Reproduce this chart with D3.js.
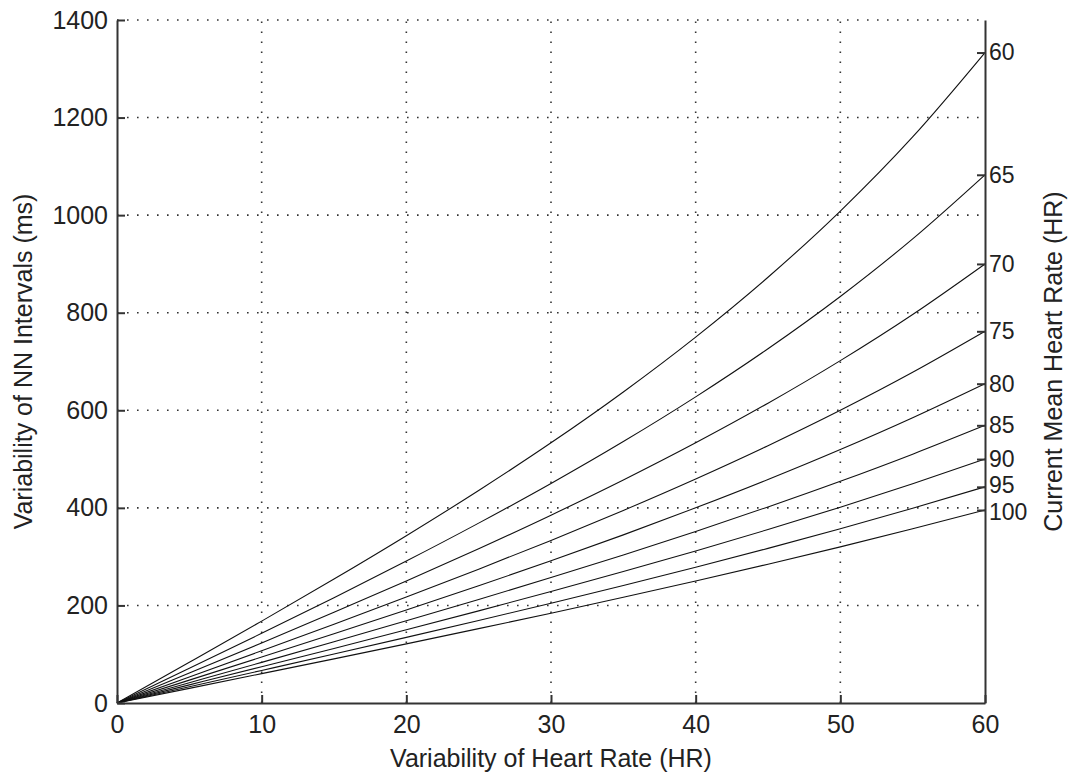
<!DOCTYPE html>
<html>
<head>
<meta charset="utf-8">
<script src="https://cdn.jsdelivr.net/npm/d3@7"></script>
<style>
  body { margin: 0; background: #fff; }
  svg text { font-family: "Liberation Sans", Arial, sans-serif; fill: #222; }
</style>
</head>
<body>
<svg id="chart" width="1072" height="778"></svg>
<script>
// x values (variability of HR) where each curve was read
let hr_var = [0, 5, 10, 15, 20, 25, 30, 35, 40, 45, 50, 55, 60]

// current mean heart rate of each curve
let mean_hr = [60, 65, 70, 75, 80, 85, 90, 95, 100]

// variability of NN intervals (ms), one array per curve
let nn_60  = [0, 83.5, 167.8, 254.0, 342.9, 435.6, 533.3, 637.6, 750.0, 872.7, 1008.4, 1160.4, 1333.3]
let nn_65  = [0, 71.1, 142.9, 215.9, 290.9, 368.7, 450.0, 535.9, 627.5, 726.1, 833.3, 951.4, 1082.7]
let nn_70  = [0, 61.3, 123.1, 185.8, 250.0, 316.2, 385.0, 457.1, 533.3, 614.5, 701.8, 796.4, 900.0]
let nn_75  = [0, 53.4, 107.1, 161.6, 217.2, 274.3, 333.3, 394.8, 459.3, 527.5, 600.0, 677.8, 761.9]
let nn_80  = [0, 46.9, 94.1, 141.9, 190.5, 240.2, 291.5, 344.6, 400.0, 458.1, 519.5, 584.7, 654.5]
let nn_85  = [0, 41.6, 83.3, 125.5, 168.4, 212.2, 257.1, 303.5, 351.6, 401.9, 454.5, 510.1, 569.2]
let nn_90  = [0, 37.1, 74.3, 111.9, 150.0, 188.8, 228.6, 269.4, 311.7, 355.6, 401.3, 449.4, 500.0]
let nn_95  = [0, 33.3, 66.7, 100.3, 134.5, 169.1, 204.5, 240.9, 278.3, 316.9, 357.1, 399.1, 443.1]
let nn_100 = [0, 30.0, 60.2, 90.5, 121.2, 152.4, 184.1, 216.6, 250.0, 284.4, 320.0, 357.0, 395.6]

let x_ticks = [0, 10, 20, 30, 40, 50, 60]
let y_ticks = [0, 200, 400, 600, 800, 1000, 1200, 1400]

let x_title = "Variability of Heart Rate (HR)"
let y_title = "Variability of NN Intervals (ms)"
let y2_title = "Current Mean Heart Rate (HR)"

let width = 1072,
    height = 778,
    margins = {top: 20, bottom: 75, left: 117, right: 87}

let font_size = 25,
    right_font = 23,
    tick_len = 8

function build_series() {
  let all = [nn_60, nn_65, nn_70, nn_75, nn_80, nn_85, nn_90, nn_95, nn_100]
  return all.map((vals, i) => ({
    hr: mean_hr[i],
    points: vals.map((v, j) => ({x: hr_var[j], y: v}))
  }))
}

function make_scales() {
  return {
    x: d3.scaleLinear()
         .domain([0, 60])
         .range([margins.left, width - margins.right]),
    y: d3.scaleLinear()
         .domain([0, 1400])
         .range([height - margins.bottom, margins.top])
  }
}

function draw_grid(svg, scales) {
  let g = svg.append("g").attr("id", "grid")
  g.selectAll("line.gx")
    .data(x_ticks.filter(d => d > 0 && d < 60)).enter()
    .append("line")
    .attr("x1", d => scales.x(d)).attr("x2", d => scales.x(d))
    .attr("y1", scales.y(0)).attr("y2", scales.y(1400))
    .attr("stroke", "#333").attr("stroke-width", 1.6)
    .attr("stroke-dasharray", "1.6,8.4")
  g.selectAll("line.gy")
    .data(y_ticks.filter(d => d > 0)).enter()
    .append("line")
    .attr("x1", scales.x(0)).attr("x2", scales.x(60))
    .attr("y1", d => scales.y(d)).attr("y2", d => scales.y(d))
    .attr("stroke", "#333").attr("stroke-width", 1.6)
    .attr("stroke-dasharray", "1.6,8.4")
}

function draw_lines(svg, series, scales) {
  let path_generator = d3.line()
    .x(d => scales.x(d.x))
    .y(d => scales.y(d.y))
    .curve(d3.curveMonotoneX)

  svg.append("g").attr("id", "lines")
    .selectAll("path")
    .data(series).enter()
    .append("path")
    .attr("d", d => path_generator(d.points))
    .attr("fill", "none")
    .attr("stroke", "#111")
    .attr("stroke-width", 1.1)
}

function style_axis(g, size) {
  g.select(".domain").attr("stroke", "#333").attr("stroke-width", 2)
  g.selectAll(".tick line").attr("stroke", "#333").attr("stroke-width", 2)
  g.selectAll(".tick text")
    .style("font-size", size + "px")
    .attr("fill", "#222")
}

function add_axes(svg, series, scales) {
  let x_axis = d3.axisBottom(scales.x)
        .tickValues(x_ticks)
        .tickFormat(d3.format("d"))
        .tickSizeInner(-tick_len).tickSizeOuter(0)
        .tickPadding(12),
      y_axis = d3.axisLeft(scales.y)
        .tickValues(y_ticks)
        .tickFormat(d3.format("d"))
        .tickSizeInner(-tick_len).tickSizeOuter(0)
        .tickPadding(9),
      y2_axis = d3.axisRight(scales.y)
        .tickValues(series.map(s => s.points[s.points.length - 1].y))
        .tickFormat((d, i) => mean_hr[i])
        .tickSizeInner(-tick_len).tickSizeOuter(0)
        .tickPadding(4)

  svg.append("g")
    .attr("id", "x_axis")
    .attr("transform", `translate(0,${height - margins.bottom})`)
    .call(x_axis)
    .call(g => style_axis(g, font_size))

  svg.append("g")
    .attr("id", "y_axis")
    .attr("transform", `translate(${margins.left},0)`)
    .call(y_axis)
    .call(g => style_axis(g, font_size))

  let y2 = svg.append("g")
    .attr("id", "y2_axis")
    .attr("transform", `translate(${width - margins.right},0)`)
    .call(y2_axis)
    .call(g => style_axis(g, right_font))

  // the two lowest labels sit very close; nudge them apart a little
  y2.selectAll(".tick text")
    .attr("transform", (d, i) => i === mean_hr.length - 2 ? "translate(0,-2)"
                               : i === mean_hr.length - 1 ? "translate(0,2)" : null)

  // titles
  svg.append("text")
    .attr("x", (margins.left + width - margins.right) / 2)
    .attr("y", 767)
    .attr("text-anchor", "middle")
    .style("font-size", font_size + "px")
    .text(x_title)

  svg.append("text")
    .attr("transform", `translate(32,${(margins.top + height - margins.bottom) / 2}) rotate(-90)`)
    .attr("text-anchor", "middle")
    .style("font-size", font_size + "px")
    .text(y_title)

  svg.append("text")
    .attr("transform", `translate(1062,${(margins.top + height - margins.bottom) / 2}) rotate(-90)`)
    .attr("text-anchor", "middle")
    .style("font-size", font_size + "px")
    .text(y2_title)
}

function visualize() {
  let svg = d3.select("#chart")
  let series = build_series()
  let scales = make_scales()
  draw_grid(svg, scales)
  draw_lines(svg, series, scales)
  add_axes(svg, series, scales)
}

visualize()
</script>
</body>
</html>
